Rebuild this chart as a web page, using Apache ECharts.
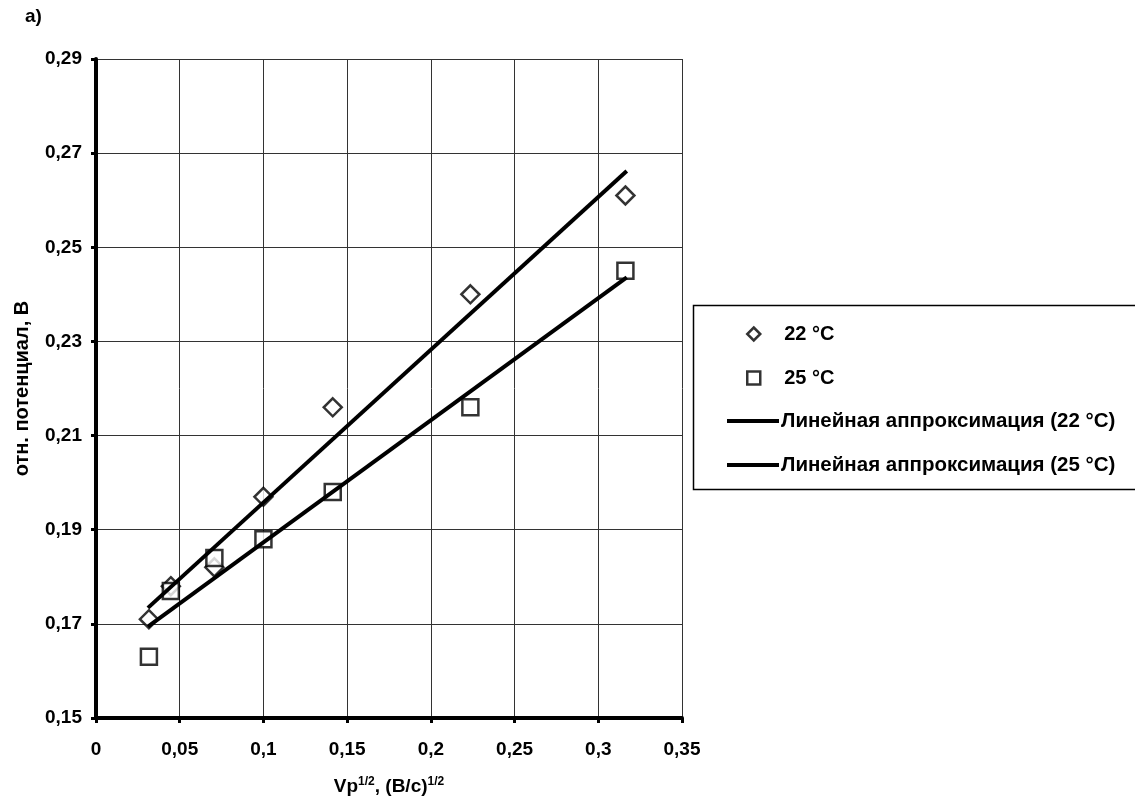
<!DOCTYPE html>
<html>
<head>
<meta charset="utf-8">
<script src="https://cdn.jsdelivr.net/npm/echarts@6/dist/echarts.min.js"></script>
<style>
html,body{margin:0;padding:0;background:#fff;}
#chart{width:1135px;height:803px;}
</style>
</head>
<body>
<div id="chart"></div>
<script>
// ---- data ----
const xValues = [0.0316, 0.0447, 0.0707, 0.1000, 0.1414, 0.2236, 0.3162];
const y22 = [0.171, 0.178, 0.182, 0.197, 0.216, 0.240, 0.261];
const y25 = [0.163, 0.177, 0.184, 0.188, 0.198, 0.216, 0.245];
const trend22X = [0.031, 0.317];
const trend22Y = [0.1734, 0.2662];
const trend25X = [0.031, 0.317];
const trend25Y = [0.1694, 0.2436];
const xTicks = [0, 0.05, 0.1, 0.15, 0.2, 0.25, 0.3, 0.35];
const xTickLabels = ['0', '0,05', '0,1', '0,15', '0,2', '0,25', '0,3', '0,35'];
const yTicks = [0.15, 0.17, 0.19, 0.21, 0.23, 0.25, 0.27, 0.29];
const yTickLabels = ['0,15', '0,17', '0,19', '0,21', '0,23', '0,25', '0,27', '0,29'];
const seriesNames = ['22 °C', '25 °C', 'Линейная аппроксимация (22 °C)', 'Линейная аппроксимация (25 °C)'];

function pairs(xs, ys) { return xs.map((x, i) => [x, ys[i]]); }
function lookup(ticks, labels) {
  return function (v) {
    const i = ticks.findIndex(t => Math.abs(t - v) < 1e-6);
    return i >= 0 ? labels[i] : '';
  };
}

const FONT = '"Liberation Sans", Arial, sans-serif';
const chart = echarts.init(document.getElementById('chart'), null, {renderer: 'canvas'});

const option = {
  backgroundColor: '#fff',
  animation: false,
  textStyle: {fontFamily: FONT, color: '#000'},
  grid: {left: 96, right: 453, top: 59, bottom: 85, containLabel: false},
  xAxis: {
    type: 'value', min: 0, max: 0.35, interval: 0.05,
    axisLine: {show: true, onZero: false, lineStyle: {color: '#000', width: 4}},
    axisTick: {show: true, length: 5, lineStyle: {color: '#000', width: 3}},
    axisLabel: {margin: 22, fontSize: 19, fontWeight: 'bold', color: '#000', fontFamily: FONT,
      formatter: lookup(xTicks, xTickLabels)},
    splitLine: {show: true, lineStyle: {color: '#333', width: 1}},
    name: '{b|Vp}{s|1/2}{b|, (B/c)}{s|1/2}',
    nameLocation: 'middle', nameGap: 58,
    nameTextStyle: {
      rich: {
        b: {fontSize: 19, fontWeight: 'bold', fontFamily: FONT, color: '#000'},
        s: {fontSize: 12, fontWeight: 'bold', fontFamily: FONT, color: '#000', padding: [0, 0, 10, 0]}
      }
    }
  },
  yAxis: {
    type: 'value', min: 0.15, max: 0.29, interval: 0.02,
    axisLine: {show: true, onZero: false, lineStyle: {color: '#000', width: 4}},
    axisTick: {show: true, length: 5, lineStyle: {color: '#000', width: 3}},
    axisLabel: {margin: 14, fontSize: 19, fontWeight: 'bold', color: '#000', fontFamily: FONT,
      formatter: lookup(yTicks, yTickLabels)},
    splitLine: {show: true, lineStyle: {color: '#333', width: 1}},
    name: 'отн. потенциал, В',
    nameLocation: 'middle', nameGap: 64,
    nameTextStyle: {fontSize: 20, fontWeight: 'bold', fontFamily: FONT, color: '#000'}
  },
  legend: [
    {
      data: [seriesNames[0], seriesNames[1]],
      orient: 'vertical', left: 741, top: 318,
      itemWidth: 13, itemHeight: 13, itemGap: 22,
      itemStyle: {borderWidth: 2.5, borderColor: '#000', color: '#fff'},
      textStyle: {fontSize: 20, fontWeight: 'bold', color: '#000', fontFamily: FONT, lineHeight: 22, padding: [0, 0, 0, 19]}
    },
    {
      data: [
        {name: seriesNames[2], icon: 'rect'},
        {name: seriesNames[3], icon: 'rect'}
      ],
      orient: 'vertical', left: 722, top: 405,
      itemWidth: 52, itemHeight: 4, itemGap: 22,
      itemStyle: {color: '#000', borderWidth: 0},
      textStyle: {fontSize: 20.5, fontWeight: 'bold', color: '#000', fontFamily: FONT, lineHeight: 22, padding: [0, 0, 0, -3]}
    }
  ],
  graphic: [
    {type: 'rect', left: 691, top: 303, shape: {width: 443, height: 184},
      style: {fill: 'none', stroke: '#000', lineWidth: 1.5}, z: 0},
    {type: 'text', left: 25, top: 7,
      style: {text: 'а)', font: 'bold 19px ' + FONT, fill: '#000'}}
  ],
  series: [
    {name: seriesNames[0], type: 'scatter', data: pairs(xValues, y22),
      symbol: 'diamond', symbolSize: 18, z: 3,
      itemStyle: {color: '#fff', borderColor: '#000', borderWidth: 2.5}},
    {name: seriesNames[1], type: 'scatter', data: pairs(xValues, y25),
      symbol: 'rect', symbolSize: 16, z: 3,
      itemStyle: {color: '#fff', borderColor: '#000', borderWidth: 2.5}},
    {name: seriesNames[2], type: 'line', data: pairs(trend22X, trend22Y),
      symbol: 'none', z: 4, lineStyle: {color: '#000', width: 4}, itemStyle: {color: '#000'}},
    {name: seriesNames[3], type: 'line', data: pairs(trend25X, trend25Y),
      symbol: 'none', z: 4, lineStyle: {color: '#000', width: 4}, itemStyle: {color: '#000'}}
  ]
};
chart.setOption(option);
</script>
</body>
</html>
